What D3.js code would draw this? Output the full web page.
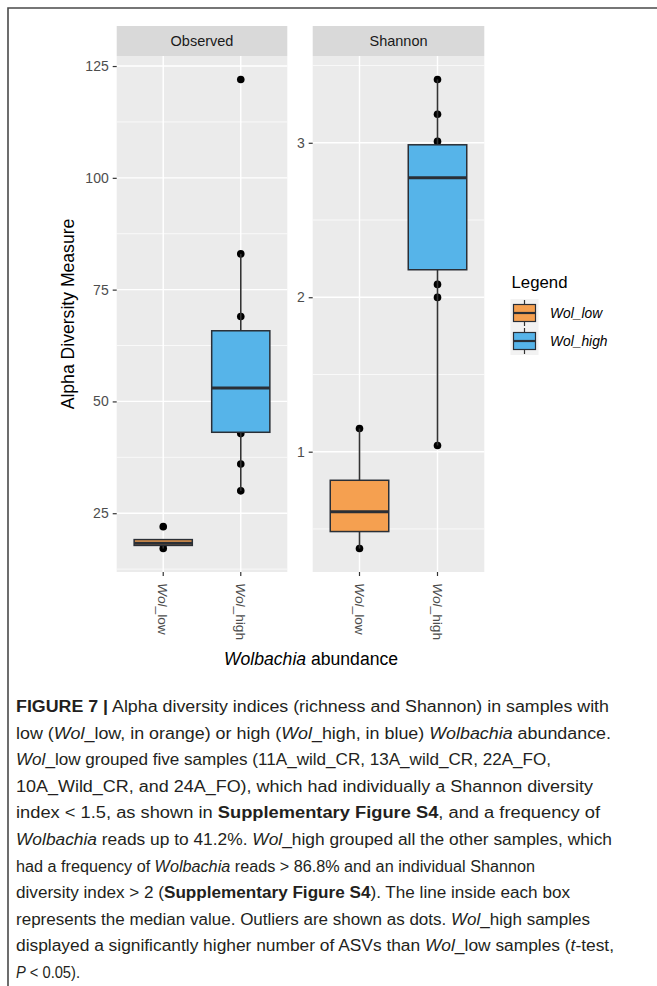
<!DOCTYPE html>
<html>
<head>
<meta charset="utf-8">
<script src="https://cdn.jsdelivr.net/npm/d3@7"></script>
<style>
  html, body { margin: 0; padding: 0; background: #fff; }
  svg { display: block; }
</style>
</head>
<body>
<script>
// ---------------- data ----------------
const categories = ["Wol_low", "Wol_high"];
const metrics = ["Observed", "Shannon"];
const groupColors = ["#F5A050", "#56B4E9"];

// Observed (richness)
const obsQ1 = [17.8, 43.1];
const obsMedian = [18.3, 53.0];
const obsQ3 = [19.1, 65.8];
const obsLower = [17.1, 30];
const obsUpper = [19.1, 83];
const obsPoints = [[22, 17.1, 18.0, 18.3], [122, 83, 69, 53, 42.8, 36, 30]];
const obsTicks = [25, 50, 75, 100, 125];

// Shannon
const shaQ1 = [0.483, 2.178];
const shaMedian = [0.612, 2.774];
const shaQ3 = [0.815, 2.987];
const shaLower = [0.373, 1.04];
const shaUpper = [1.15, 3.41];
const shaPoints = [[1.15, 0.612, 0.373], [3.41, 3.185, 3.009, 2.774, 2.083, 1.999, 1.04]];
const shaTicks = [1, 2, 3];

const yTitle = "Alpha Diversity Measure";
const legendTitle = "Legend";

// caption lines: segments [text, style] (n normal, i italic, b bold)
const captionLines = [
  [["FIGURE 7 |", "b"], [" Alpha diversity indices (richness and Shannon) in samples with", "n"]],
  [["low (", "n"], ["Wol", "i"], ["_low, in orange) or high (", "n"], ["Wol", "i"], ["_high, in blue) ", "n"], ["Wolbachia", "i"], [" abundance.", "n"]],
  [["Wol", "i"], ["_low grouped five samples (11A_wild_CR, 13A_wild_CR, 22A_FO,", "n"]],
  [["10A_Wild_CR, and 24A_FO), which had individually a Shannon diversity", "n"]],
  [["index < 1.5, as shown in ", "n"], ["Supplementary Figure S4", "b"], [", and a frequency of", "n"]],
  [["Wolbachia", "i"], [" reads up to 41.2%. ", "n"], ["Wol", "i"], ["_high grouped all the other samples, which", "n"]],
  [["had a frequency of ", "n"], ["Wolbachia", "i"], [" reads > 86.8% and an individual Shannon", "n"]],
  [["diversity index > 2 (", "n"], ["Supplementary Figure S4", "b"], ["). The line inside each box", "n"]],
  [["represents the median value. Outliers are shown as dots. ", "n"], ["Wol", "i"], ["_high samples", "n"]],
  [["displayed a significantly higher number of ASVs than ", "n"], ["Wol", "i"], ["_low samples (", "n"], ["t", "i"], ["-test,", "n"]],
  [["P", "i"], [" < 0.05).", "n"]]
];
const captionLineEnds = [609, 611, 551, 593, 600, 612, 535, 570, 590, 614, 80];

// ---------------- layout ----------------
const W = 657, H = 986;
const font = "'Liberation Sans', Arial, Helvetica, sans-serif";
const panelTop = 56, panelBottom = 572, stripTop = 26;
const panels = [
  { name: metrics[0], x0: 116.7, x1: 287.3, q1: obsQ1, med: obsMedian, q3: obsQ3, lo: obsLower, hi: obsUpper, pts: obsPoints, ticks: obsTicks },
  { name: metrics[1], x0: 312.7, x1: 484.3, q1: shaQ1, med: shaMedian, q3: shaQ3, lo: shaLower, hi: shaUpper, pts: shaPoints, ticks: shaTicks }
];

const svg = d3.select("body").append("svg").attr("width", W).attr("height", H)
  .style("font-family", font);

svg.append("rect").attr("width", W).attr("height", H).attr("fill", "#fff");

// frame (top and left)
svg.append("path").attr("d", `M8,986 L8,8 L657,8`).attr("fill", "none")
  .attr("stroke", "#4a4a4a").attr("stroke-width", 1.6);

panels.forEach(p => {
  const all = p.pts.flat().concat(p.lo, p.hi);
  const [mn, mx] = d3.extent(all);
  const pad = (mx - mn) * 0.05;
  const y = d3.scaleLinear().domain([mn - pad, mx + pad]).range([panelBottom, panelTop]);
  const x = d3.scaleLinear().domain([0.4, categories.length + 0.6]).range([p.x0, p.x1]);
  const g = svg.append("g");

  // strip
  g.append("rect").attr("x", p.x0).attr("y", stripTop).attr("width", p.x1 - p.x0)
    .attr("height", panelTop - stripTop).attr("fill", "#D9D9D9");
  g.append("text").attr("x", (p.x0 + p.x1) / 2).attr("y", (stripTop + panelTop) / 2 + 5)
    .attr("text-anchor", "middle").attr("font-size", 14.5).attr("fill", "#1A1A1A").text(p.name);

  // panel bg
  g.append("rect").attr("x", p.x0).attr("y", panelTop).attr("width", p.x1 - p.x0)
    .attr("height", panelBottom - panelTop).attr("fill", "#EBEBEB");

  // minor grid
  const step = p.ticks[1] - p.ticks[0];
  const minor = [];
  for (let v = p.ticks[0] - step / 2; v <= y.domain()[1]; v += step) {
    if (v >= y.domain()[0]) minor.push(v);
  }
  g.selectAll(".minor").data(minor).join("line")
    .attr("x1", p.x0).attr("x2", p.x1).attr("y1", d => y(d)).attr("y2", d => y(d))
    .attr("stroke", "#fff").attr("stroke-width", 0.7);
  // major grid
  g.selectAll(".major").data(p.ticks).join("line")
    .attr("x1", p.x0).attr("x2", p.x1).attr("y1", d => y(d)).attr("y2", d => y(d))
    .attr("stroke", "#fff").attr("stroke-width", 1.4);
  g.selectAll(".vmajor").data(categories).join("line")
    .attr("x1", (d, i) => x(i + 1)).attr("x2", (d, i) => x(i + 1))
    .attr("y1", panelTop).attr("y2", panelBottom)
    .attr("stroke", "#fff").attr("stroke-width", 1.4);

  // y axis
  const ya = g.append("g").attr("transform", `translate(${p.x0},0)`)
    .call(d3.axisLeft(y).tickValues(p.ticks).tickFormat(d3.format("d")).tickSize(4).tickPadding(4));
  ya.select(".domain").remove();
  ya.selectAll(".tick line").attr("stroke", "#333").attr("stroke-width", 1.2);
  ya.selectAll(".tick text").attr("font-size", 14).attr("fill", "#4D4D4D").attr("font-family", font);

  // x axis ticks
  categories.forEach((c, i) => {
    const cx = x(i + 1);
    g.append("line").attr("x1", cx).attr("x2", cx).attr("y1", panelBottom).attr("y2", panelBottom + 4)
      .attr("stroke", "#333").attr("stroke-width", 1.2);
    const t = g.append("text").attr("transform", `translate(${cx},${panelBottom + 11}) rotate(90)`)
      .attr("dy", "0.35em").attr("font-size", 13.7).attr("fill", "#4D4D4D");
    const parts = c.split("_");
    t.append("tspan").attr("font-style", "italic").text(parts[0]);
    t.append("tspan").text("_" + parts[1]);
  });

  // points (drawn under boxes)
  categories.forEach((c, i) => {
    g.selectAll(null).data(p.pts[i]).join("circle")
      .attr("cx", x(i + 1)).attr("cy", d => y(d)).attr("r", 3.8).attr("fill", "#000");
  });

  // boxplots
  const bw = 0.75;
  categories.forEach((c, i) => {
    const cx = x(i + 1);
    const xl = x(i + 1 - bw / 2), xr = x(i + 1 + bw / 2);
    g.append("line").attr("x1", cx).attr("x2", cx).attr("y1", y(p.q3[i])).attr("y2", y(p.hi[i]))
      .attr("stroke", "#333").attr("stroke-width", 1.6);
    g.append("line").attr("x1", cx).attr("x2", cx).attr("y1", y(p.q1[i])).attr("y2", y(p.lo[i]))
      .attr("stroke", "#333").attr("stroke-width", 1.6);
    g.append("rect").attr("x", xl).attr("y", y(p.q3[i])).attr("width", xr - xl)
      .attr("height", y(p.q1[i]) - y(p.q3[i])).attr("fill", groupColors[i])
      .attr("stroke", "#2a2f36").attr("stroke-width", 1.5);
    g.append("line").attr("x1", xl).attr("x2", xr).attr("y1", y(p.med[i])).attr("y2", y(p.med[i]))
      .attr("stroke", "#2a2f36").attr("stroke-width", 3);
  });
});

// axis titles
svg.append("text").attr("transform", `translate(74,314) rotate(-90)`)
  .attr("text-anchor", "middle").attr("font-size", 17.6).attr("fill", "#000").text(yTitle);
const xt = svg.append("text").attr("x", 311).attr("y", 665).attr("text-anchor", "middle")
  .attr("font-size", 17.6).attr("fill", "#000");
xt.append("tspan").attr("font-style", "italic").text("Wolbachia");
xt.append("tspan").text(" abundance");

// legend
svg.append("text").attr("x", 511.5).attr("y", 288).attr("font-size", 16.8).attr("fill", "#000").text(legendTitle);
categories.forEach((c, i) => {
  const cy = 313 + i * 28;
  const kx = 510.5, ks = 28;
  const lg = svg.append("g");
  lg.append("rect").attr("x", kx).attr("y", cy - ks / 2).attr("width", ks).attr("height", ks).attr("fill", "#F2F2F2");
  lg.append("line").attr("x1", kx + ks / 2).attr("x2", kx + ks / 2).attr("y1", cy - ks / 2 + 1).attr("y2", cy + ks / 2 - 1)
    .attr("stroke", "#333").attr("stroke-width", 1.2);
  lg.append("rect").attr("x", kx + 3).attr("y", cy - 8.5).attr("width", ks - 6).attr("height", 17)
    .attr("fill", groupColors[i]).attr("stroke", "#2a2f36").attr("stroke-width", 1.2);
  lg.append("line").attr("x1", kx + 3).attr("x2", kx + ks - 3).attr("y1", cy).attr("y2", cy)
    .attr("stroke", "#2a2f36").attr("stroke-width", 2.2);
  const t = lg.append("text").attr("x", 550).attr("y", cy + 5).attr("font-size", 13.8).attr("fill", "#000");
  const parts = c.split("_");
  t.append("tspan").attr("font-style", "italic").text(parts[0]);
  t.append("tspan").attr("font-style", "italic").text("_" + parts[1]);
});

// caption (each line fitted to the reference line width)
captionLines.forEach((segs, k) => {
  const t = svg.append("text").attr("x", 16).attr("y", 712 + k * 26.6)
    .attr("font-size", 16).attr("fill", "#231F20")
    .attr("textLength", captionLineEnds[k] - 16).attr("lengthAdjust", "spacingAndGlyphs");
  segs.forEach(([txt, st]) => {
    const ts = t.append("tspan").text(txt);
    if (st === "i") ts.attr("font-style", "italic");
    if (st === "b") ts.attr("font-weight", "bold");
  });
});
</script>
</body>
</html>
